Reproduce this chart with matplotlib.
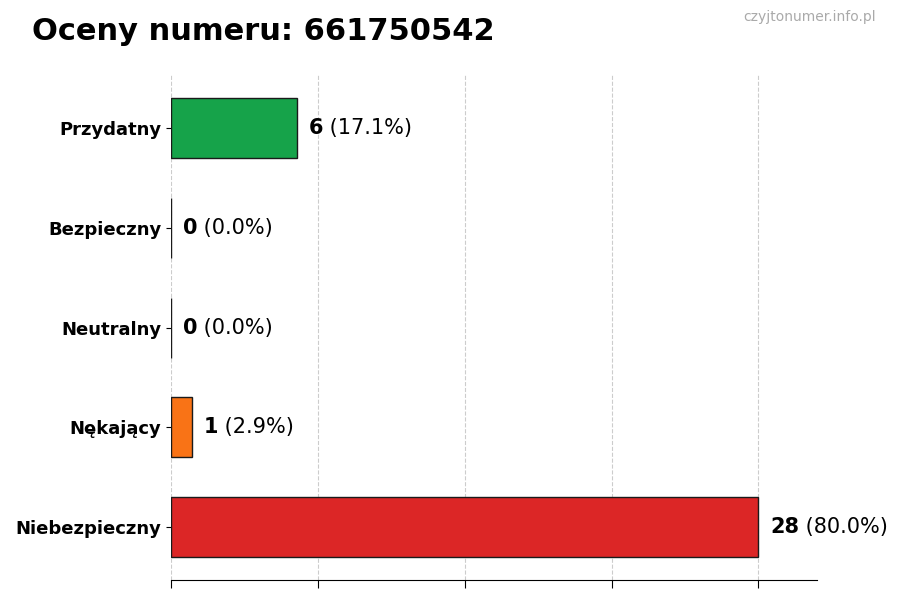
import matplotlib
matplotlib.use("Agg")
import matplotlib.pyplot as plt

# ratings, top to bottom as shown
categories = ["Przydatny", "Bezpieczny", "Neutralny", "Nękający", "Niebezpieczny"]
counts = [6, 0, 0, 1, 28]
colors = ["#16a34a", "#2563eb", "#9ca3af", "#f97316", "#dc2626"]
phone = "661750542"

total = sum(counts)

fig = plt.figure(figsize=(9, 6), dpi=100)
ax = fig.add_axes([0.19, 0.033, 0.718, 0.842])

ypos = list(range(len(categories)))[::-1]
ax.barh(ypos, counts, height=0.6, color=colors, edgecolor="#1a1a1a", linewidth=1, zorder=3)

ax.set_yticks(ypos)
ax.set_yticklabels(categories, fontsize=13, fontweight="bold")
ax.set_xlim(0, max(counts) * 1.1)
ax.set_xticks([0, 7, 14, 21, 28])
ax.set_xticklabels([])
ax.tick_params(axis="x", length=6)
ax.grid(axis="x", linestyle="--", color="#cccccc", linewidth=0.8, zorder=0)
for side in ("top", "right", "left"):
    ax.spines[side].set_visible(False)

off = max(counts) * 0.02
for y, c in zip(ypos, counts):
    pct = c / total * 100
    t = ax.text(c + off, y, str(c), fontsize=15, fontweight="bold", va="center", ha="left")
    ax.annotate(f" ({pct:.1f}%)", xy=(1, 0.5), xycoords=t, fontsize=15,
                va="center", ha="left")

fig.text(0.035, 0.948, f"Oceny numeru: {phone}", fontsize=22, fontweight="bold",
         va="center", ha="left")
fig.text(0.973, 0.971, "czyjtonumer.info.pl", fontsize=10, color="#aaaaaa",
         va="center", ha="right")

fig.savefig("out.png", dpi=100)
